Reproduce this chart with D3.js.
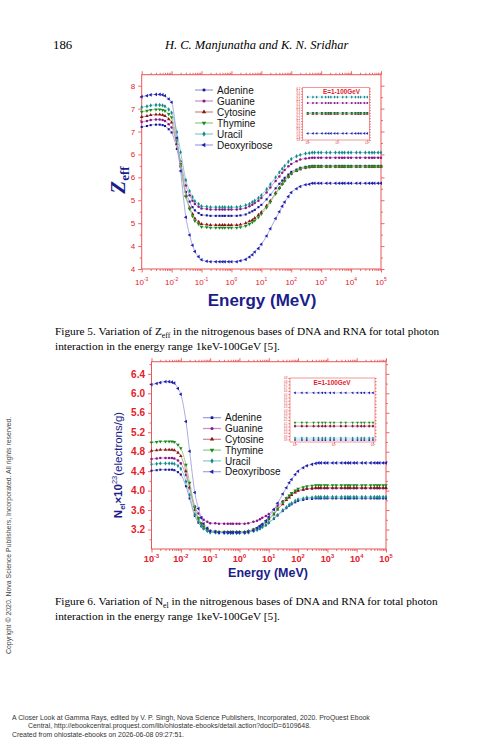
<!DOCTYPE html>
<html>
<head>
<meta charset="utf-8">
<script src="https://cdn.jsdelivr.net/npm/d3@7"></script>
<style>
  html, body { margin: 0; padding: 0; background: #fff; }
  svg { display: block; }
</style>
</head>
<body>
<svg id="page" width="500" height="753"></svg>
<script>
// photon energies (MeV), XCOM-style grid
const energies = [
  0.001, 0.0015, 0.002, 0.003, 0.004, 0.005, 0.006, 0.008,
  0.01, 0.015, 0.02, 0.03, 0.04, 0.05, 0.06, 0.08,
  0.1, 0.15, 0.2, 0.3, 0.4, 0.5, 0.6, 0.8,
  1, 1.5, 2, 3, 4, 5, 6, 8,
  10, 15, 20, 30, 40, 50, 60, 80,
  100, 150, 200, 300, 400, 500, 600, 800,
  1000, 1500, 2000, 3000, 4000, 5000, 6000, 8000,
  10000, 15000, 20000, 30000, 40000, 50000, 60000, 80000,
  100000
];

const seriesNames = ["Adenine", "Guanine", "Cytosine", "Thymine", "Uracil", "Deoxyribose"];

// Figure 5: effective atomic number
const zeffAdenine = [
  7.10, 7.12, 7.14, 7.15, 7.15, 7.14, 7.12, 7.05,
  6.98, 6.62, 6.23, 5.68, 5.47, 5.35, 5.28, 5.22,
  5.18, 5.17, 5.16, 5.16, 5.16, 5.16, 5.16, 5.16,
  5.16, 5.16, 5.17, 5.19, 5.23, 5.26, 5.29, 5.35,
  5.40, 5.52, 5.62, 5.76, 5.86, 5.93, 5.99, 6.06,
  6.12, 6.17, 6.21, 6.23, 6.24, 6.25, 6.25, 6.25,
  6.25, 6.25, 6.25, 6.25, 6.25, 6.25, 6.25, 6.25,
  6.25, 6.25, 6.25, 6.25, 6.25, 6.25, 6.25, 6.25,
  6.25
];
const zeffGuanine = [
  7.21, 7.23, 7.25, 7.26, 7.26, 7.25, 7.23, 7.16,
  7.09, 6.73, 6.35, 5.82, 5.61, 5.49, 5.42, 5.36,
  5.32, 5.31, 5.30, 5.30, 5.30, 5.30, 5.30, 5.30,
  5.30, 5.30, 5.31, 5.33, 5.37, 5.40, 5.44, 5.49,
  5.55, 5.67, 5.78, 5.92, 6.02, 6.10, 6.16, 6.24,
  6.29, 6.35, 6.39, 6.41, 6.42, 6.43, 6.43, 6.43,
  6.43, 6.43, 6.43, 6.43, 6.43, 6.43, 6.43, 6.43,
  6.43, 6.43, 6.43, 6.43, 6.43, 6.43, 6.43, 6.43,
  6.43
];
const zeffCytosine = [
  7.32, 7.34, 7.36, 7.37, 7.37, 7.36, 7.34, 7.27,
  7.20, 6.73, 6.26, 5.60, 5.34, 5.20, 5.10, 5.03,
  4.98, 4.97, 4.96, 4.96, 4.96, 4.96, 4.96, 4.96,
  4.96, 4.96, 4.97, 5.00, 5.04, 5.07, 5.11, 5.18,
  5.24, 5.38, 5.49, 5.66, 5.77, 5.86, 5.93, 6.01,
  6.08, 6.14, 6.18, 6.21, 6.22, 6.23, 6.23, 6.23,
  6.23, 6.23, 6.23, 6.23, 6.23, 6.23, 6.23, 6.23,
  6.23, 6.23, 6.23, 6.23, 6.23, 6.23, 6.23, 6.23,
  6.23
];
const zeffThymine = [
  7.43, 7.45, 7.47, 7.48, 7.48, 7.47, 7.45, 7.38,
  7.31, 6.80, 6.29, 5.58, 5.31, 5.15, 5.05, 4.98,
  4.92, 4.91, 4.90, 4.90, 4.90, 4.90, 4.90, 4.90,
  4.90, 4.90, 4.91, 4.94, 4.98, 5.02, 5.06, 5.13,
  5.20, 5.34, 5.46, 5.64, 5.76, 5.85, 5.92, 6.01,
  6.08, 6.15, 6.19, 6.21, 6.23, 6.24, 6.24, 6.24,
  6.24, 6.24, 6.24, 6.24, 6.24, 6.24, 6.24, 6.24,
  6.24, 6.24, 6.24, 6.24, 6.24, 6.24, 6.24, 6.24,
  6.24
];
const zeffUracil = [
  7.53, 7.55, 7.57, 7.58, 7.58, 7.57, 7.55, 7.48,
  7.41, 6.99, 6.55, 5.94, 5.70, 5.57, 5.48, 5.42,
  5.37, 5.36, 5.35, 5.35, 5.35, 5.35, 5.35, 5.35,
  5.35, 5.35, 5.36, 5.39, 5.42, 5.46, 5.49, 5.55,
  5.61, 5.74, 5.85, 6.00, 6.11, 6.19, 6.25, 6.34,
  6.40, 6.46, 6.49, 6.52, 6.53, 6.54, 6.54, 6.54,
  6.54, 6.54, 6.54, 6.54, 6.54, 6.54, 6.54, 6.54,
  6.54, 6.54, 6.54, 6.54, 6.54, 6.54, 6.54, 6.54,
  6.54
];
const zeffDeoxyribose = [
  7.76, 7.78, 7.80, 7.81, 7.81, 7.80, 7.78, 7.71,
  7.64, 6.86, 6.14, 5.13, 4.74, 4.52, 4.38, 4.27,
  4.20, 4.17, 4.16, 4.16, 4.16, 4.16, 4.16, 4.16,
  4.16, 4.16, 4.18, 4.21, 4.26, 4.31, 4.37, 4.45,
  4.54, 4.72, 4.88, 5.10, 5.25, 5.37, 5.46, 5.58,
  5.67, 5.75, 5.80, 5.84, 5.85, 5.87, 5.87, 5.87,
  5.87, 5.87, 5.87, 5.87, 5.87, 5.87, 5.87, 5.87,
  5.87, 5.87, 5.87, 5.87, 5.87, 5.87, 5.87, 5.87,
  5.87
];

// Figure 6: electron density (x 10^23 electrons/g)
const nelAdenine = [
  4.41, 4.42, 4.43, 4.43, 4.43, 4.43, 4.42, 4.38,
  4.33, 4.09, 3.84, 3.48, 3.34, 3.27, 3.22, 3.18,
  3.15, 3.15, 3.14, 3.14, 3.14, 3.14, 3.14, 3.14,
  3.14, 3.14, 3.15, 3.18, 3.20, 3.22, 3.25, 3.29,
  3.34, 3.42, 3.49, 3.58, 3.64, 3.69, 3.72, 3.76,
  3.79, 3.81, 3.83, 3.83, 3.84, 3.84, 3.84, 3.84,
  3.84, 3.84, 3.84, 3.84, 3.84, 3.84, 3.84, 3.84,
  3.84, 3.84, 3.84, 3.84, 3.84, 3.84, 3.84, 3.84,
  3.84
];
const nelGuanine = [
  4.65, 4.66, 4.67, 4.67, 4.67, 4.67, 4.66, 4.62,
  4.56, 4.32, 4.05, 3.68, 3.53, 3.45, 3.40, 3.36,
  3.33, 3.33, 3.32, 3.32, 3.32, 3.32, 3.32, 3.32,
  3.32, 3.32, 3.33, 3.36, 3.38, 3.41, 3.44, 3.48,
  3.52, 3.61, 3.69, 3.78, 3.85, 3.89, 3.93, 3.97,
  4.00, 4.02, 4.04, 4.04, 4.05, 4.05, 4.05, 4.05,
  4.05, 4.05, 4.05, 4.05, 4.05, 4.05, 4.05, 4.05,
  4.05, 4.05, 4.05, 4.05, 4.05, 4.05, 4.05, 4.05,
  4.05
];
const nelCytosine = [
  4.82, 4.83, 4.84, 4.84, 4.84, 4.84, 4.83, 4.78,
  4.71, 4.40, 4.07, 3.60, 3.42, 3.32, 3.25, 3.20,
  3.17, 3.16, 3.15, 3.15, 3.15, 3.15, 3.15, 3.15,
  3.15, 3.15, 3.17, 3.20, 3.22, 3.26, 3.30, 3.35,
  3.41, 3.51, 3.61, 3.72, 3.81, 3.86, 3.91, 3.96,
  4.00, 4.02, 4.04, 4.05, 4.06, 4.06, 4.06, 4.06,
  4.06, 4.06, 4.06, 4.06, 4.06, 4.06, 4.06, 4.06,
  4.06, 4.06, 4.06, 4.06, 4.06, 4.06, 4.06, 4.06,
  4.06
];
const nelThymine = [
  4.99, 5.00, 5.01, 5.01, 5.01, 5.01, 5.00, 4.94,
  4.87, 4.53, 4.16, 3.65, 3.44, 3.33, 3.26, 3.21,
  3.17, 3.16, 3.15, 3.15, 3.15, 3.15, 3.15, 3.15,
  3.15, 3.15, 3.17, 3.20, 3.23, 3.27, 3.30, 3.36,
  3.42, 3.53, 3.63, 3.76, 3.84, 3.90, 3.95, 4.00,
  4.04, 4.07, 4.09, 4.10, 4.11, 4.11, 4.11, 4.11,
  4.11, 4.11, 4.11, 4.11, 4.11, 4.11, 4.11, 4.11,
  4.11, 4.11, 4.11, 4.11, 4.11, 4.11, 4.11, 4.11,
  4.11
];
const nelUracil = [
  4.54, 4.55, 4.56, 4.56, 4.56, 4.56, 4.55, 4.51,
  4.45, 4.19, 3.91, 3.51, 3.36, 3.27, 3.22, 3.17,
  3.14, 3.14, 3.13, 3.13, 3.13, 3.13, 3.13, 3.13,
  3.13, 3.13, 3.14, 3.17, 3.19, 3.22, 3.25, 3.29,
  3.34, 3.43, 3.50, 3.60, 3.66, 3.71, 3.74, 3.79,
  3.82, 3.84, 3.86, 3.86, 3.87, 3.87, 3.87, 3.87,
  3.87, 3.87, 3.87, 3.87, 3.87, 3.87, 3.87, 3.87,
  3.87, 3.87, 3.87, 3.87, 3.87, 3.87, 3.87, 3.87,
  3.87
];
const nelDeoxyribose = [
  6.18, 6.20, 6.22, 6.24, 6.24, 6.23, 6.21, 6.10,
  5.98, 5.42, 4.81, 3.96, 3.63, 3.44, 3.32, 3.23,
  3.17, 3.15, 3.14, 3.14, 3.14, 3.14, 3.14, 3.14,
  3.14, 3.14, 3.15, 3.18, 3.23, 3.27, 3.31, 3.38,
  3.46, 3.61, 3.74, 3.93, 4.06, 4.16, 4.23, 4.33,
  4.40, 4.47, 4.51, 4.54, 4.56, 4.57, 4.57, 4.57,
  4.57, 4.57, 4.57, 4.57, 4.57, 4.57, 4.57, 4.57,
  4.57, 4.57, 4.57, 4.57, 4.57, 4.57, 4.57, 4.57,
  4.57
];

// axis ticks
const xExponents = [-3, -2, -1, 0, 1, 2, 3, 4, 5];
const insetExponents = [3, 4, 5];
const zeffTicks = [4, 4.5, 5, 5.5, 6, 6.5, 7, 7.5, 8];
const zeffTickLabels = ["4", "4", "5", "5", "6", "6", "7", "7", "8"];
const nelTicks = [3.2, 3.6, 4.0, 4.4, 4.8, 5.2, 5.6, 6.0, 6.4];
const nelTickLabels = ["3.2", "3.6", "4.0", "4.4", "4.8", "5.2", "5.6", "6.0", "6.4"];

// ---- styling ----
const SERIF = "'Liberation Serif', 'Times New Roman', serif";
const SANS = "'Liberation Sans', Arial, sans-serif";
const AXIS_RED = "#ec5656";
const LABEL_RED = "#e3202a";
const NAVY = "#1b1d8a";

const STYLES = [
    {fill: "#15159a", line: "#9a9ad8", type: d3.symbolSquare, rot: 0, k: 0.8},
    {fill: "#8b168b", line: "#c88cc8", type: d3.symbolCircle, rot: 0, k: 0.9},
    {fill: "#8b1414", line: "#c98a8a", type: d3.symbolTriangle, rot: 0, k: 1},
    {fill: "#1a8a1a", line: "#8ccc8c", type: d3.symbolTriangle, rot: 180, k: 1},
    {fill: "#118a8a", line: "#88c8c8", type: d3.symbolDiamond, rot: 0, k: 1},
    {fill: "#2020b0", line: "#a0a0e0", type: d3.symbolTriangle, rot: -90, k: 1}
];

const svg = d3.select("#page");

function decadeMinors(exps){
    let out = [];
    exps.slice(0, -1).forEach(e => {
        d3.range(2, 10).forEach(m => out.push(m * Math.pow(10, e)));
    });
    return out;
}

function styleAxis(sel){
    sel.select(".domain").remove();
    sel.selectAll(".tick line").attr("stroke", AXIS_RED).attr("stroke-width", 0.9);
}

function powLabels(g, x, exps, yPos, fs, bold){
    exps.forEach(e => {
        let t = g.append("text")
            .attr("x", x(Math.pow(10, e)))
            .attr("y", yPos)
            .attr("text-anchor", "middle")
            .attr("font-family", SANS)
            .attr("font-size", fs)
            .attr("font-weight", bold ? "bold" : "normal")
            .attr("fill", LABEL_RED);
        t.append("tspan").text("10");
        t.append("tspan").attr("dy", -fs * 0.45).attr("font-size", fs * 0.62).text(e);
    });
}

function drawMarkers(g, pts, st, size){
    g.selectAll(null)
        .data(pts)
        .enter().append("path")
            .attr("d", d3.symbol().type(st.type).size(size * st.k))
            .attr("transform", d => `translate(${d[0]},${d[1]}) rotate(${st.rot})`)
            .attr("fill", st.fill);
}

function drawPanel(p){
    let x = d3.scaleLog().domain([1e-3, 1e5]).range([p.left, p.right]);
    let y = d3.scaleLinear().domain(p.yDomain).range([p.bottom, p.top]);
    let g = svg.append("g").attr("class", "panel");

    let majorX = xExponents.map(e => Math.pow(10, e));
    let minorX = decadeMinors(xExponents);
    let minorY = d3.range(p.yTicks[0] - p.yStep / 2, p.yDomain[1], p.yStep / 2)
        .filter(v => v > p.yDomain[0] && !p.yTicks.some(t => Math.abs(t - v) < 1e-6));

    // axes on all four sides, ticks outward
    [["axisBottom", p.bottom], ["axisTop", p.top]].forEach(([fn, pos]) => {
        g.append("g").attr("transform", `translate(0,${pos})`)
            .call(d3[fn](x).tickValues(majorX).tickSize(p.tick).tickFormat(""))
            .call(styleAxis);
        g.append("g").attr("transform", `translate(0,${pos})`)
            .call(d3[fn](x).tickValues(minorX).tickSize(p.tick * 0.55).tickFormat(""))
            .call(styleAxis);
    });
    [["axisLeft", p.left], ["axisRight", p.right]].forEach(([fn, pos]) => {
        let ax = g.append("g").attr("transform", `translate(${pos},0)`)
            .call(d3[fn](y).tickValues(p.yTicks).tickSize(p.tick)
                .tickFormat((d, i) => fn === "axisLeft" ? p.yLabels[i] : ""))
            .call(styleAxis);
        ax.selectAll(".tick text")
            .attr("fill", LABEL_RED)
            .attr("font-family", SANS)
            .attr("font-size", p.yFont)
            .attr("font-weight", p.bold ? "bold" : "normal");
        g.append("g").attr("transform", `translate(${pos},0)`)
            .call(d3[fn](y).tickValues(minorY).tickSize(p.tick * 0.55).tickFormat(""))
            .call(styleAxis);
    });

    g.append("rect")
        .attr("x", p.left).attr("y", p.top)
        .attr("width", p.right - p.left).attr("height", p.bottom - p.top)
        .attr("fill", "none").attr("stroke", AXIS_RED).attr("stroke-width", 1);

    powLabels(g, x, xExponents, p.bottom + p.xLabelGap, p.xFont, p.bold);

    // curves
    let line = d3.line()
        .x((d, i) => x(energies[i]))
        .y(d => y(d))
        .curve(d3.curveMonotoneX);

    p.series.forEach((vals, si) => {
        let st = STYLES[si];
        g.append("path")
            .attr("d", line(vals))
            .attr("fill", "none")
            .attr("stroke", st.line)
            .attr("stroke-width", 0.9);
        drawMarkers(g, vals.map((v, i) => [x(energies[i]), y(v)]), st, p.marker);
    });

    // legend
    seriesNames.forEach((name, si) => {
        let st = STYLES[si];
        let ly = p.legend.y + si * p.legend.dy;
        g.append("line")
            .attr("x1", p.legend.x).attr("x2", p.legend.x + p.legend.len)
            .attr("y1", ly).attr("y2", ly)
            .attr("stroke", st.line).attr("stroke-width", 1.2);
        drawMarkers(g, [[p.legend.x + p.legend.len / 2, ly]], st, p.marker * 1.6);
        g.append("text")
            .attr("x", p.legend.x + p.legend.len + 4)
            .attr("y", ly + p.legend.font * 0.36)
            .attr("font-family", SANS)
            .attr("font-size", p.legend.font)
            .attr("fill", "#111")
            .text(name);
    });

    drawInset(p.inset, p.series);
}

function drawInset(q, series){
    let x = d3.scaleLog().domain([1e3, 1e5]).range([q.left + 5, q.right - 2]);
    let y = d3.scaleLinear().domain(q.yDomain).range([q.bottom, q.top]);
    let g = svg.append("g").attr("class", "inset");

    g.append("rect")
        .attr("x", q.left).attr("y", q.top)
        .attr("width", q.right - q.left).attr("height", q.bottom - q.top)
        .attr("fill", "#fff").attr("stroke", AXIS_RED).attr("stroke-width", 0.6);

    let yt = y.ticks(q.nTicks);
    g.append("g").attr("transform", `translate(${q.left},0)`)
        .call(d3.axisLeft(y).tickValues(yt).tickSize(1.5).tickPadding(1).tickFormat(d3.format(".1f")))
        .call(styleAxis)
        .selectAll(".tick text")
            .attr("fill", LABEL_RED).attr("font-family", SANS).attr("font-size", 2.6);
    g.append("g").attr("transform", `translate(${q.right},0)`)
        .call(d3.axisRight(y).tickValues(yt).tickSize(1.5).tickFormat(""))
        .call(styleAxis);
    g.append("g").attr("transform", `translate(0,${q.bottom})`)
        .call(d3.axisBottom(x).tickValues(insetExponents.map(e => Math.pow(10, e))).tickSize(1.5).tickFormat(""))
        .call(styleAxis);
    powLabels(g, x, insetExponents, q.bottom + 4, 3, false);

    g.append("text")
        .attr("x", q.titleX).attr("y", q.top + 7)
        .attr("text-anchor", "middle")
        .attr("font-family", SANS).attr("font-weight", "bold")
        .attr("font-size", 6.4)
        .attr("fill", LABEL_RED)
        .text("E=1-100GeV");

    let line = d3.line().x(d => x(d[0])).y(d => y(d[1]));
    series.forEach((vals, si) => {
        let st = STYLES[si];
        let pts = energies.map((e, i) => [e, vals[i]]).filter(d => d[0] >= 1e3);
        g.append("path")
            .attr("d", line(pts))
            .attr("fill", "none").attr("stroke", st.line).attr("stroke-width", 0.6);
        drawMarkers(g, pts.map(d => [x(d[0]), y(d[1])]), st, 3.2);
    });
}

// ---- page text ----
function pageText(tx, ty, txt, opts){
    return svg.append("text")
        .attr("x", tx).attr("y", ty)
        .attr("font-family", opts.family || SERIF)
        .attr("font-size", opts.size)
        .attr("font-style", opts.italic ? "italic" : "normal")
        .attr("fill", opts.fill || "#000")
        .text(txt);
}

pageText(53, 48.5, "186", {size: 12.8});
pageText(165, 48.5, "H. C. Manjunatha and K. N. Sridhar", {size: 12.5, italic: true});

function caption(ty, fig, sym, sub){
    let t = svg.append("text")
        .attr("x", 55).attr("y", ty)
        .attr("font-family", SERIF).attr("font-size", 11.3).attr("fill", "#000");
    t.append("tspan").text(`Figure ${fig}. Variation of ${sym}`);
    t.append("tspan").attr("dy", 2.5).attr("font-size", 7.8).text(sub);
    t.append("tspan").attr("dy", -2.5).text(" in the nitrogenous bases of DNA and RNA for total photon");
    pageText(55, ty + 15, "interaction in the energy range 1keV-100GeV [5].", {size: 11.3});
}
caption(335, 5, "Z", "eff");
caption(605, 6, "N", "el");

// footer and side note
[["A Closer Look at Gamma Rays, edited by V. P. Singh, Nova Science Publishers, Incorporated, 2020. ProQuest Ebook", 12, 719.5],
 ["Central, http://ebookcentral.proquest.com/lib/ohiostate-ebooks/detail.action?docID=6109648.", 28, 728.2],
 ["Created from ohiostate-ebooks on 2026-06-08 09:27:51.", 12, 736.8]]
    .forEach(([txt, tx, ty]) => pageText(tx, ty, txt, {size: 6.9, family: SANS, fill: "#333"}));

svg.append("text")
    .attr("transform", "translate(11,654) rotate(-90)")
    .attr("font-family", SANS).attr("font-size", 6.9).attr("fill", "#444")
    .text("Copyright © 2020. Nova Science Publishers, Incorporated. All rights reserved.");

// ---- Figure 5 ----
drawPanel({
    left: 141.7, right: 381, top: 74.7, bottom: 269,
    yDomain: [4, 8.24], yTicks: zeffTicks, yLabels: zeffTickLabels, yStep: 0.5,
    tick: 3.5, yFont: 8, xFont: 8, xLabelGap: 16, bold: false, marker: 5.5,
    series: [zeffAdenine, zeffGuanine, zeffCytosine, zeffThymine, zeffUracil, zeffDeoxyribose],
    legend: {x: 195, y: 90, dy: 11, len: 18, font: 10},
    inset: {left: 302.7, right: 369.3, top: 87.3, bottom: 140, yDomain: [5.75, 6.72], nTicks: 14, titleX: 341.5}
});

svg.append("text")
    .attr("x", 262).attr("y", 306)
    .attr("text-anchor", "middle")
    .attr("font-family", SANS).attr("font-weight", "bold").attr("font-size", 17)
    .attr("fill", NAVY).text("Energy (MeV)");

let zl = svg.append("text")
    .attr("transform", "translate(125,180) rotate(-90)")
    .attr("text-anchor", "middle")
    .attr("font-family", SERIF).attr("font-weight", "bold").attr("fill", NAVY);
zl.append("tspan").attr("font-style", "italic").attr("font-size", 21).text("Z");
zl.append("tspan").attr("font-size", 13).attr("dy", 4).text("eff");

// ---- Figure 6 ----
drawPanel({
    left: 151.5, right: 386, top: 361.7, bottom: 549,
    yDomain: [2.8, 6.65], yTicks: nelTicks, yLabels: nelTickLabels, yStep: 0.4,
    tick: 3.5, yFont: 10, xFont: 9.2, xLabelGap: 13, bold: true, marker: 5.5,
    series: [nelAdenine, nelGuanine, nelCytosine, nelThymine, nelUracil, nelDeoxyribose],
    legend: {x: 203, y: 417.7, dy: 10.8, len: 18, font: 10},
    inset: {left: 290, right: 375, top: 378, bottom: 442, yDomain: [3.81, 4.80], nTicks: 16, titleX: 332}
});

svg.append("text")
    .attr("x", 268).attr("y", 576.5)
    .attr("text-anchor", "middle")
    .attr("font-family", SANS).attr("font-weight", "bold").attr("font-size", 12.5)
    .attr("fill", NAVY).text("Energy (MeV)");

let nl = svg.append("text")
    .attr("transform", "translate(122,465) rotate(-90)")
    .attr("text-anchor", "middle")
    .attr("font-family", SANS).attr("font-size", 11.5).attr("fill", NAVY);
nl.append("tspan").attr("font-weight", "bold").text("N");
nl.append("tspan").attr("font-weight", "bold").attr("font-size", 7.5).attr("dy", 3).text("el");
nl.append("tspan").attr("font-weight", "bold").attr("dy", -3).text("×10");
nl.append("tspan").attr("font-size", 7.5).attr("dy", -5).text("23");
nl.append("tspan").attr("dy", 5).text("(electrons/g)");
</script>
</body>
</html>
